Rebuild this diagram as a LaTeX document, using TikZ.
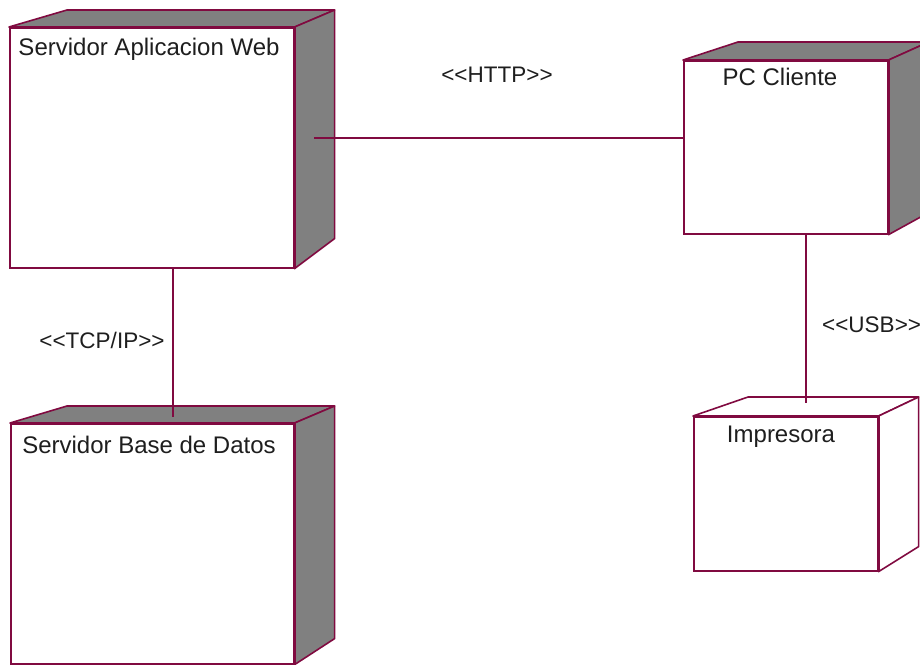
\documentclass[tikz,border=0pt]{standalone}
\usepackage{fontspec}
\setmainfont{Liberation Sans}[Ligatures=TeXOff]
\usetikzlibrary{calc}

\definecolor{edgecol}{RGB}{128,10,64}
\definecolor{sidegray}{RGB}{128,128,128}
\definecolor{txtcol}{RGB}{30,30,30}

% front face of a deployment node
\tikzset{
  front/.style={draw=edgecol, line width=1.6pt, fill=white, rectangle,
    inner sep=0pt, anchor=north west},
  face/.style={draw=edgecol, line width=1.6pt, line join=round},
  nodename/.style={font=\fontsize{24}{28}\selectfont, text=txtcol, anchor=base, inner sep=0pt},
  linkname/.style={font=\fontsize{22.5}{26}\selectfont, text=txtcol, anchor=base, inner sep=0pt},
  link/.style={draw=edgecol, line width=1.5pt}
}

% top and side faces of a node box:
% #1 name, #2 top-left slant, #3 depth, #4 rise at top, #5 rise at bottom, #6 side fill
\newcommand\boxfaces[6]{%
  \path[face, fill=#6] (#1.north west) -- ++(#2,-#4)
    -- ($(#1.north east)+(#3,-#4)$) -- (#1.north east) -- cycle;
  \path[face, fill=#6] (#1.north east) -- ++(#3,-#4)
    -- ($(#1.south east)+(#3,-#5)$) -- (#1.south east) -- cycle;
  \draw[edgecol, line width=2.6pt] (#1.north east) -- (#1.south east);
}

\begin{document}
\begin{tikzpicture}[x=1pt, y=-1pt]
  \useasboundingbox (0,0) rectangle (920,664);
  \clip (0,0) rectangle (920,664);

  % nodes
  \node[front, minimum width=284pt, minimum height=240pt] (web) at (9,27) {};
  \node[front, minimum width=204pt, minimum height=173pt] (pc)  at (683,60) {};
  \node[front, minimum width=283pt, minimum height=240pt] (db)  at (10,423) {};
  \node[front, minimum width=184pt, minimum height=154pt] (imp) at (693,416) {};

  \boxfaces{web}{58}{40}{17}{30}{sidegray}
  \boxfaces{pc}{55}{40}{18}{22}{sidegray}
  \boxfaces{db}{57}{40}{17}{26}{sidegray}
  \boxfaces{imp}{55}{40}{19}{25}{white}

  % node names
  \node[nodename] (webname) at (149,55)  {Servidor Aplicacion Web};
  \node[nodename] (pcname)  at (780,85)  {PC Cliente};
  \node[nodename] (dbname)  at (149,453) {Servidor Base de Datos};
  \node[nodename] (impname) at (781,442) {Impresora};

  % connections
  \coordinate (httpstart) at (314,138);
  \draw[link] (httpstart) -- (httpstart -| pc.west);
  \draw[link] ([xshift=21pt]web.south) -- ([xshift=20.5pt,yshift=6pt]db.north);
  \draw[link] ([xshift=20pt]pc.south) -- ([xshift=20pt,yshift=13pt]imp.north);

  % connection stereotypes
  \node[linkname] (http) at (497,82)  {<<HTTP>>};
  \node[linkname] (tcp)  at (102,348) {<<TCP/IP>>};
  \node[linkname, anchor=base west] (usb) at (822,332) {<<USB>>};
\end{tikzpicture}
\end{document}
